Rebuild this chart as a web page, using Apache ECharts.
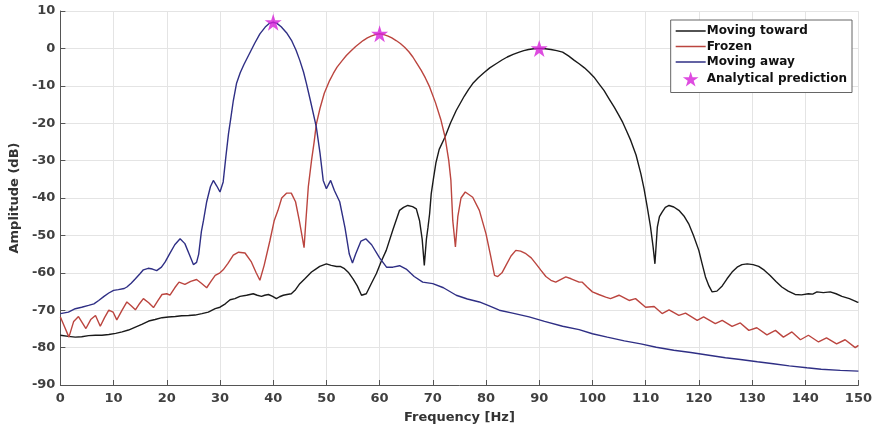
<!DOCTYPE html>
<html>
<head>
<meta charset="utf-8">
<script src="https://cdn.jsdelivr.net/npm/echarts@6/dist/echarts.min.js"></script>
<style>html,body{margin:0;padding:0;background:#fff}#c{width:875px;height:429px}</style>
</head>
<body>
<div id="c"></div>
<script>
const seriesNames = ['Moving toward', 'Frozen', 'Moving away', 'Analytical prediction'];
const xTicks = [0, 10, 20, 30, 40, 50, 60, 70, 80, 90, 100, 110, 120, 130, 140, 150];
const yTicks = [-90, -80, -70, -60, -50, -40, -30, -20, -10, 0, 10];

const towardFreq = [0,1.5,2.8,4,5.3,6.6,7.8,9.1,10.4,11.6,12.8,14.1,15.3,16.6,17.8,19.1,20.3,21.6,22.8,24.1,25.3,26.6,27.8,29.1,30,31,31.9,32.8,33.75,35,36.25,37,37.8,38.4,39.1,39.9,40.6,41.2,41.9,42.6,43.4,44.2,45,46,47.2,48,48.75,50,50.9,51.9,52.6,53.4,54.2,55,55.8,56.6,57.5,58.4,59.4,60.3,61.25,62.5,63.75,64.5,65.3,66.2,66.9,67.5,68,68.4,68.8,69.1,69.4,69.7,70.1,70.6,71.2,72.3,73.3,74.4,75.9,76.7,77.5,78.5,79.6,80.7,81.9,83,84,85.1,86.25,87.1,88,89,90,91.1,92.2,93.3,94.4,95.5,96.6,97.5,98.5,99.4,100.3,101.2,102.2,103.1,104.1,104.9,105.7,106.4,107.2,108.2,109.1,109.7,110.3,110.9,111.4,111.75,112.2,112.6,113.1,113.7,114.4,115.3,116.25,117.2,118.1,119,120,120.6,121.25,121.9,122.5,123.4,124.4,125.3,126.25,127.2,128.1,129.1,130.2,131.25,132.3,133.4,134.5,135.6,136.8,138.1,139.3,140.6,141.4,142.2,143.4,144.7,145.8,146.9,148.3,149.7,150];
const towardDb = [-76.7,-77,-77.2,-77.1,-76.8,-76.7,-76.7,-76.5,-76.2,-75.8,-75.3,-74.5,-73.8,-72.9,-72.5,-72,-71.8,-71.7,-71.5,-71.4,-71.3,-70.9,-70.5,-69.6,-69.2,-68.3,-67.2,-66.9,-66.3,-66,-65.6,-66,-66.3,-66,-65.8,-66.3,-66.9,-66.4,-66,-65.8,-65.6,-64.5,-62.9,-61.5,-59.8,-59,-58.3,-57.6,-58,-58.3,-58.3,-58.9,-60,-61.6,-63.5,-66,-65.6,-63,-60.2,-57,-54,-48.5,-43.3,-42.5,-42,-42.3,-42.9,-46,-51,-58,-51,-47.8,-44.2,-38.9,-35,-30.5,-27,-23.7,-20,-16.6,-12.8,-11,-9.4,-7.9,-6.5,-5.2,-4.1,-3.1,-2.3,-1.6,-1,-0.6,-0.3,-0.1,0,-0.1,-0.3,-0.6,-1,-2,-3.2,-4.1,-5.2,-6.4,-7.7,-9.4,-11.3,-13.4,-15.7,-17.7,-19.8,-22,-24.6,-28.5,-33.5,-37.5,-42.4,-47.5,-53,-57.6,-47.8,-45,-43.8,-42.5,-42,-42.4,-43.3,-44.8,-46.9,-50,-54,-57.5,-61.1,-63.5,-65.1,-64.9,-63.5,-61.6,-59.8,-58.5,-57.8,-57.6,-57.8,-58.3,-59.3,-60.7,-62.3,-63.8,-64.9,-65.8,-65.9,-65.6,-65.7,-65.1,-65.3,-65.1,-65.6,-66.3,-66.9,-67.8,-67.9];

const frozenFreq = [0,0.8,1.6,2.5,3.4,4.1,4.8,5.7,6.6,7.5,8.3,9.1,9.9,10.6,11.6,12.5,13.3,14.1,14.9,15.6,16.6,17.5,18.3,19.1,20,20.6,21.5,22.3,23.4,24.5,25.6,26.5,27.5,28.3,29.1,30,30.6,31.5,32.5,33.5,34.7,35.9,36.8,37.5,38.3,39.4,40.2,40.9,41.6,42.5,43.4,44.2,44.9,45.4,45.8,46.1,46.6,47.2,47.7,48.1,48.8,49.6,50.6,51.3,52,53,53.75,54.6,55.5,56.9,57.7,58.4,59.2,60,60.8,61.6,62.3,63.1,63.9,64.7,65.5,66.25,67,67.8,68.6,69.4,70.5,71.5,72.3,73,73.4,73.75,74.25,74.7,75.3,76.1,77.5,78.75,80,80.8,81.6,82.2,83,83.75,84.7,85.6,86.5,87.5,88.5,89.4,90.3,91.25,92.2,93.1,94,95,96,97.5,98.1,99,100,101.2,102.5,103.4,105,106.9,108.1,110,111.6,113.1,114.4,116.25,117.5,119.7,120.9,123.1,124.4,126.25,127.8,129.4,130.9,132.8,134.4,135.9,137.5,139.1,140.6,142.5,144,145.9,147.5,149.4,150];
const frozenDb = [-71.8,-74.5,-77.2,-73,-71.7,-73.3,-74.9,-72.5,-71.4,-74.3,-72,-70,-70.5,-72.6,-70,-67.8,-68.8,-69.9,-68.2,-66.9,-68,-69.3,-67.5,-65.8,-65.6,-66,-64,-62.5,-63.1,-62.3,-61.8,-62.8,-64,-62.3,-60.7,-60,-59.2,-57.5,-55.3,-54.5,-54.7,-57.1,-60,-62,-58,-51.3,-46,-43.3,-40,-38.7,-38.7,-41,-46,-50,-53.3,-47,-37,-30,-25,-20.3,-16,-12,-8.6,-6.7,-5,-3.2,-1.9,-0.7,0.5,2.1,2.8,3.3,3.7,3.9,3.7,3.3,2.8,2.1,1.3,0.3,-0.9,-2.3,-4,-5.8,-7.9,-10.3,-14.5,-19,-23.7,-30,-35.3,-46,-53.1,-45,-40,-38.4,-39.8,-43.3,-49.6,-55,-60.7,-61,-60,-58,-55.5,-54,-54.2,-54.9,-56,-57.6,-59.3,-61,-62,-62.5,-61.8,-61.1,-61.6,-62.5,-62.5,-63.8,-65.1,-65.8,-66.5,-66.9,-66,-67.4,-66.9,-69.2,-69,-70.9,-69.9,-71.4,-70.8,-72.7,-71.8,-73.6,-72.7,-74.3,-73.4,-75.4,-74.7,-76.6,-75.4,-77.2,-75.8,-77.9,-76.7,-78.5,-77.4,-79,-77.9,-80,-79.4];

const awayFreq = [0,1.5,2.8,4,5.3,6.3,7.2,8.2,9.1,10,10.9,12,12.5,13.3,14.1,15,15.6,16.5,17.3,18.1,19,19.7,20.5,21.5,22.5,23.4,24.2,25,25.6,26,26.5,26.9,27.5,28.2,28.75,29.4,30,30.6,31.1,31.6,32,32.5,33.1,33.8,34.5,35.5,36.5,37.5,38.5,39.3,40,40.7,41.5,42.5,43.5,44.3,45,45.7,46.25,47,48.1,48.8,49.4,50,50.8,51.5,52.5,53.5,54.3,54.9,55.5,56.5,57.4,58.5,60,61.3,62.5,63.75,65,66.5,68.1,70,72,74.4,76.5,78.75,80.5,82.5,85,88.1,91,94.4,97.5,100,102.8,106,109.1,112,115.3,118.5,122.2,125,127.8,131,134,137,140.3,143,146.6,150];
const awayDb = [-70.9,-70.5,-69.6,-69.2,-68.7,-68.3,-67.4,-66.3,-65.4,-64.7,-64.5,-64.2,-63.8,-62.8,-61.6,-60.2,-59.2,-58.8,-59,-59.4,-58.5,-57.1,-55,-52.5,-50.9,-52.2,-55,-57.8,-57.2,-55,-49,-46,-41,-37,-35.3,-36.8,-38.4,-35.7,-29,-22.8,-19,-14,-9.4,-6.5,-4.3,-1.5,1.3,3.9,5.7,6.7,7,6.7,5.8,4.2,2,-0.5,-3.2,-6.3,-9.4,-14,-21,-28,-35.3,-37.5,-35.3,-38,-41,-48,-55,-57.4,-55,-51.5,-50.9,-52.5,-56,-58.5,-58.5,-58.1,-59,-61,-62.5,-62.9,-64,-66,-67,-67.8,-68.8,-70,-70.8,-71.8,-73,-74.3,-75.2,-76.3,-77.2,-78.2,-79,-79.9,-80.7,-81.3,-82.1,-82.7,-83.2,-83.8,-84.3,-84.9,-85.4,-85.8,-86.1,-86.3];

const predFreq = [40, 60, 90];
const predDb = [7, 3.9, 0];

function zip(a, b) { return a.map((v, i) => [v, b[i]]); }

const STAR = 'path://M50,2 L61,36 L97,36 L68,57 L79,92 L50,71 L21,92 L32,57 L3,36 L39,36 Z';
const LINE_ICON = 'path://M0,0 L30,0 L30,1.5 L0,1.5 Z';
const tickFont = { fontFamily: 'DejaVu Sans', fontWeight: 'bold', fontSize: 13, color: '#404040' };

const chart = echarts.init(document.getElementById('c'), null, { renderer: 'canvas' });
chart.setOption({
  animation: false,
  backgroundColor: '#fff',
  grid: { left: 60, right: 15, top: 11, bottom: 44 },
  xAxis: {
    type: 'value', min: xTicks[0], max: xTicks[xTicks.length - 1], interval: 10,
    name: 'Frequency [Hz]', nameLocation: 'middle', nameGap: 26,
    nameTextStyle: { fontFamily: 'DejaVu Sans', fontWeight: 'bold', fontSize: 13, color: '#333' },
    axisLine: { onZero: false, lineStyle: { color: '#555', width: 1 } },
    axisTick: { inside: true, length: 5, lineStyle: { color: '#555' } },
    axisLabel: Object.assign({ margin: 7, formatter: v => String(v) }, tickFont),
    splitLine: { show: true, lineStyle: { color: '#e4e4e4', width: 1 } }
  },
  yAxis: {
    type: 'value', min: yTicks[0], max: yTicks[yTicks.length - 1], interval: 10,
    name: 'Amplitude (dB)', nameLocation: 'middle', nameGap: 36, nameRotate: 90,
    nameTextStyle: { fontFamily: 'DejaVu Sans', fontWeight: 'bold', fontSize: 13, color: '#333' },
    axisLine: { show: true, onZero: false, lineStyle: { color: '#555', width: 1 } },
    axisTick: { show: true, inside: true, length: 5, lineStyle: { color: '#555' } },
    axisLabel: Object.assign({ margin: 5, formatter: v => String(v) }, tickFont),
    splitLine: { show: true, lineStyle: { color: '#e4e4e4', width: 1 } }
  },
  legend: {
    orient: 'vertical', right: 23, top: 20,
    backgroundColor: '#fff', borderColor: '#666', borderWidth: 1,
    padding: [5, 5, 6, 5], itemWidth: 30, itemHeight: 15, itemGap: 3.5,
    symbolKeepAspect: true,
    textStyle: { fontFamily: 'DejaVu Sans', fontWeight: 'bold', fontSize: 12, color: '#111', padding: [0, 0, 0, -4] },
    data: [
      { name: seriesNames[0], icon: LINE_ICON },
      { name: seriesNames[1], icon: LINE_ICON },
      { name: seriesNames[2], icon: LINE_ICON },
      { name: seriesNames[3], icon: STAR }
    ]
  },
  series: [
    { name: seriesNames[0], type: 'line', symbol: 'none', data: zip(towardFreq, towardDb),
      lineStyle: { color: '#1a1a1a', width: 1.4 }, itemStyle: { color: '#1a1a1a' } },
    { name: seriesNames[1], type: 'line', symbol: 'none', data: zip(frozenFreq, frozenDb),
      lineStyle: { color: '#bb453f', width: 1.4 }, itemStyle: { color: '#bb453f' } },
    { name: seriesNames[2], type: 'line', symbol: 'none', data: zip(awayFreq, awayDb),
      lineStyle: { color: '#2f2f85', width: 1.4 }, itemStyle: { color: '#2f2f85' } },
    { name: seriesNames[3], type: 'scatter', symbol: STAR, symbolSize: 17, data: zip(predFreq, predDb),
      itemStyle: { color: '#d61fd8' }, z: 5 }
  ]
});
</script>
</body>
</html>
